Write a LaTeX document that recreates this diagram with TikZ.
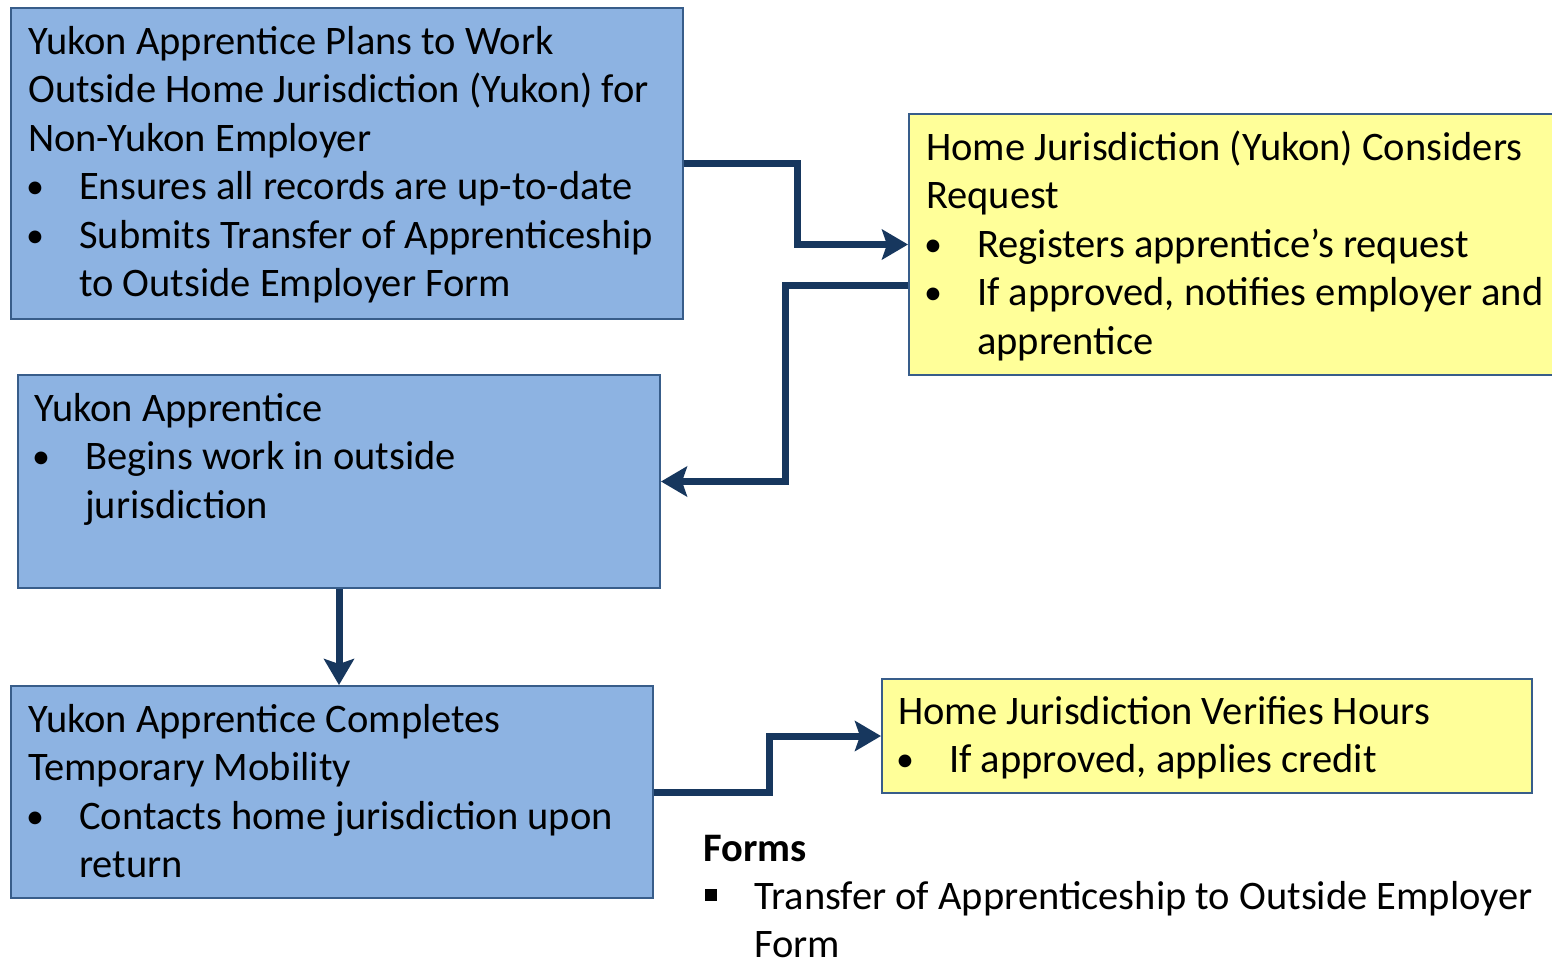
\documentclass[tikz,border=0pt]{standalone}
\usepackage{fontspec}
\setmainfont{Carlito}
\usetikzlibrary{arrows.meta,calc}
\definecolor{boxblue}{HTML}{8DB3E2}
\definecolor{boxedge}{HTML}{385D8A}
\definecolor{boxyellow}{HTML}{FFFF99}
\definecolor{arrowblue}{HTML}{17375E}
\newcommand{\bul}{\makebox[51pt][l]{\hspace{-2pt}{\fontsize{36}{36}\selectfont\raisebox{1pt}{\textbullet}}}}
\newcommand{\ind}{\hspace*{51pt}}
\newcommand{\sqb}{\makebox[51pt][l]{\hspace{2pt}\rule[8.5pt]{12pt}{12pt}}}
\tikzset{
  bluebox/.style={draw=boxedge, line width=2pt, fill=boxblue, anchor=north west, inner sep=0pt},
  yellowbox/.style={draw=boxedge, line width=2pt, fill=boxyellow, anchor=north west, inner sep=0pt},
  txt/.style={anchor=base west, inner sep=0pt, font=\fontsize{40.5}{48.5}\selectfont},
  conn/.style={draw=arrowblue, line width=7pt, -{Stealth[length=26pt,width=30pt,inset=5pt]}}
}
\begin{document}
\begin{tikzpicture}[x=1pt,y=-1pt]
\clip (0,0) rectangle (1552,962);
\fill[white] (0,0) rectangle (1552,962);
% boxes
\node[bluebox, minimum width=672pt, minimum height=311pt] (b1) at (10,7) {};
\node[yellowbox, minimum width=660pt, minimum height=261pt] (b2) at (908,113) {};
\node[bluebox, minimum width=642pt, minimum height=213pt] (b3) at (17,374) {};
\node[bluebox, minimum width=642pt, minimum height=212pt] (b4) at (10,685) {};
\node[yellowbox, minimum width=650pt, minimum height=114pt] (b5) at (881,678) {};
% texts
\node[txt] (t1) at (28,54) {\begin{minipage}[t]{700pt}\raggedright
Yukon Apprentice Plans to Work\\
Outside Home Jurisdiction (Yukon) for\\
Non-Yukon Employer\\
\bul Ensures all records are up-to-date\\
\bul Submits Transfer of Apprenticeship\\
\ind to Outside Employer Form\end{minipage}};
\node[txt] (t2) at (926,160) {\begin{minipage}[t]{700pt}\raggedright
Home Jurisdiction (Yukon) Considers\\
Request\\
\bul Registers apprentice’s request\\
\bul If approved, notifies employer and\\
\ind apprentice\end{minipage}};
\node[txt] (t3) at (34,421) {\begin{minipage}[t]{700pt}\raggedright
Yukon Apprentice\\
\bul Begins work in outside\\
\ind jurisdiction\end{minipage}};
\node[txt] (t4) at (28,732) {\begin{minipage}[t]{700pt}\raggedright
Yukon Apprentice Completes\\
Temporary Mobility\\
\bul Contacts home jurisdiction upon\\
\ind return\end{minipage}};
\node[txt] (t5) at (898,724) {\begin{minipage}[t]{700pt}\raggedright
Home Jurisdiction Verifies Hours\\
\bul If approved, applies credit\end{minipage}};
\node[txt] (t6) at (703,861) {\begin{minipage}[t]{900pt}\raggedright
\textbf{Forms}\\
\sqb Transfer of Apprenticeship to Outside Employer\\[-1pt]
\ind Form\end{minipage}};
% connectors
\draw[conn] (b1.east) -- ++(113,0) |- (b2.west);
\draw[conn] ($(b2.west)+(0,41)$) -- ++(-123,0) |- (b3.east);
\draw[conn] (b3.south) -- (b3.south |- b4.north);
\draw[conn] (b4.east) -- ++(115,0) |- (b5.west);
\end{tikzpicture}
\end{document}
